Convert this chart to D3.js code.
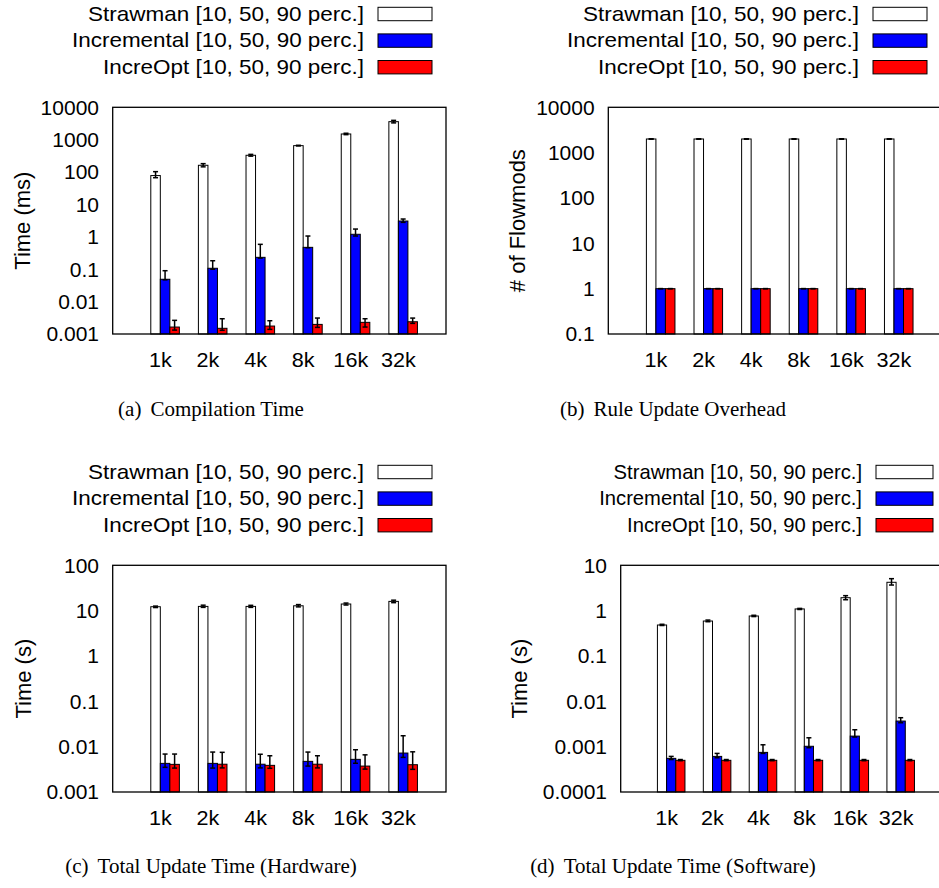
<!DOCTYPE html>
<html>
<head>
<meta charset="utf-8">
<script src="https://cdn.jsdelivr.net/npm/d3@7"></script>
<style>
  body { margin: 0; background: #fff; }
  text { font-family: "Liberation Sans", Arial, sans-serif; }
  .cap { font-family: "Liberation Serif", "Times New Roman", serif; }
</style>
</head>
<body>
<svg id="chart" width="939" height="888"></svg>
<script>
const sizes = ["1k", "2k", "4k", "8k", "16k", "32k"];
const seriesNames = ["Strawman [10, 50, 90 perc.]", "Incremental [10, 50, 90 perc.]", "IncreOpt [10, 50, 90 perc.]"];
const seriesColors = ["#ffffff", "#0000ff", "#ff0000"];

// each entry: [p10, p50, p90]
const compileStrawman = [[67, 78, 103], [145, 162, 182], [310, 330, 352], [640, 655, 672], [1430, 1500, 1580], [3300, 3600, 3950]];
const compileIncr = [[0.047, 0.049, 0.09], [0.10, 0.107, 0.183], [0.22, 0.233, 0.587], [0.46, 0.474, 1.06], [1.06, 1.20, 1.74], [2.80, 3.08, 3.55]];
const compileOpt = [[0.00132, 0.00164, 0.00264], [0.0013, 0.0015, 0.00296], [0.00139, 0.00176, 0.00257], [0.0016, 0.00198, 0.00311], [0.00164, 0.00229, 0.00296], [0.00213, 0.00239, 0.0031]];

const flowStrawman = [[1980, 2000, 2020], [1980, 2000, 2020], [1980, 2000, 2020], [1980, 2000, 2020], [1980, 2000, 2020], [1980, 2000, 2020]];
const flowIncr = [[1, 1, 1], [1, 1, 1], [1, 1, 1], [1, 1, 1], [1, 1, 1], [1, 1, 1]];
const flowOpt = [[1, 1, 1], [1, 1, 1], [1, 1, 1], [1, 1, 1], [1, 1, 1], [1, 1, 1]];

const hwStrawman = [[11.7, 12.2, 12.6], [11.8, 12.4, 13.2], [11.8, 12.4, 13.1], [12.1, 12.8, 13.6], [13.3, 14.0, 14.7], [15.0, 16.0, 17.0]];
const hwIncr = [[0.0035, 0.00428, 0.00687], [0.00337, 0.00428, 0.0076], [0.0034, 0.0041, 0.0068], [0.00373, 0.00474, 0.0076], [0.0043, 0.00525, 0.00855], [0.0058, 0.00723, 0.0174]];
const hwOpt = [[0.00337, 0.00407, 0.00687], [0.0034, 0.0041, 0.0075], [0.00333, 0.00387, 0.0063], [0.0034, 0.0041, 0.0063], [0.0032, 0.00373, 0.0066], [0.00316, 0.0040, 0.0077]];

const swStrawman = [[0.47, 0.482, 0.50], [0.57, 0.59, 0.62], [0.74, 0.762, 0.79], [1.06, 1.09, 1.12], [1.74, 1.93, 2.14], [3.67, 4.22, 5.07]];
const swIncr = [[0.00052, 0.000552, 0.00061], [0.00057, 0.00061, 0.00071], [0.00071, 0.000748, 0.0011], [0.00095, 0.00102, 0.00157], [0.00163, 0.00171, 0.00236], [0.00337, 0.00367, 0.00435]];
const swOpt = [[0.00049, 0.0005, 0.00052], [0.00049, 0.0005, 0.00052], [0.00049, 0.0005, 0.00052], [0.00049, 0.0005, 0.00052], [0.00049, 0.0005, 0.00052], [0.00049, 0.0005, 0.00052]];

const ticksA = [0.001, 0.01, 0.1, 1, 10, 100, 1000, 10000];
const ticksB = [0.1, 1, 10, 100, 1000, 10000];
const ticksC = [0.001, 0.01, 0.1, 1, 10, 100];
const ticksD = [0.0001, 0.001, 0.01, 0.1, 1, 10];

const legendWidths = [276, 292, 261];

const panels = [
  { left: 112.7, top: 107.3, width: 333.3, height: 226.7, ticks: ticksA, yTitle: "Time (ms)", yTitleX: 22,
    caption: "(a)", captionText: "Compilation Time", capX: 211, capY: 416,
    legendEnd: 364, swatchX: 378, swatchW: 54, legendScale: 1,
    series: [compileStrawman, compileIncr, compileOpt] },
  { left: 608.3, top: 107.3, width: 333.3, height: 226.7, ticks: ticksB, yTitle: "# of Flowmods", yTitleX: 517,
    caption: "(b)", captionText: "Rule Update Overhead", capX: 673, capY: 416,
    legendEnd: 859, swatchX: 873, swatchW: 54, legendScale: 1,
    series: [flowStrawman, flowIncr, flowOpt] },
  { left: 112.7, top: 565.3, width: 333.3, height: 226.7, ticks: ticksC, yTitle: "Time (s)", yTitleX: 23,
    caption: "(c)", captionText: "Total Update Time (Hardware)", capX: 211, capY: 873,
    legendEnd: 364, swatchX: 378, swatchW: 54, legendScale: 1,
    series: [hwStrawman, hwIncr, hwOpt] },
  { left: 620.7, top: 565.3, width: 321.3, height: 226.7, ticks: ticksD, yTitle: "Time (s)", yTitleX: 519,
    caption: "(d)", captionText: "Total Update Time (Software)", capX: 673, capY: 873,
    legendEnd: 862, swatchX: 876, swatchW: 57, legendScale: 0.9,
    series: [swStrawman, swIncr, swOpt] }
];

const svg = d3.select("#chart");

panels.forEach(p => {
  const g = svg.append("g");
  const right = p.left + p.width;
  const bottom = p.top + p.height;

  const x = d3.scaleLinear().domain([0, 7]).range([p.left, right]);
  const y = d3.scaleLog().domain([p.ticks[0], p.ticks[p.ticks.length - 1]]).range([bottom, p.top]);

  // bars: white ends at the category position, blue and red follow
  p.series.forEach((vals, si) => {
    const offset = -0.2 + si * 0.2;
    g.selectAll(null)
      .data(vals)
      .enter()
      .append("rect")
      .attr("x", (d, i) => x(i + 1 + offset))
      .attr("width", x(0.2) - x(0))
      .attr("y", d => y(d[1]))
      .attr("height", d => bottom - y(d[1]))
      .attr("fill", seriesColors[si])
      .attr("stroke", "#000")
      .attr("stroke-width", 1);

    // error bars
    const eb = g.selectAll(null)
      .data(vals)
      .enter()
      .append("g")
      .attr("stroke", "#000")
      .attr("stroke-width", 1.5);
    const cx = i => x(i + 1 + offset + 0.1);
    eb.append("line")
      .attr("x1", (d, i) => cx(i)).attr("x2", (d, i) => cx(i))
      .attr("y1", d => y(d[0])).attr("y2", d => y(d[2]));
    eb.append("line")
      .attr("x1", (d, i) => cx(i) - 2.5).attr("x2", (d, i) => cx(i) + 2.5)
      .attr("y1", d => y(d[0])).attr("y2", d => y(d[0]));
    eb.append("line")
      .attr("x1", (d, i) => cx(i) - 2.5).attr("x2", (d, i) => cx(i) + 2.5)
      .attr("y1", d => y(d[2])).attr("y2", d => y(d[2]));
  });

  // frame
  g.append("rect")
    .attr("x", p.left).attr("y", p.top)
    .attr("width", p.width).attr("height", p.height)
    .attr("fill", "none").attr("stroke", "#000").attr("stroke-width", 1.3);

  // y tick labels
  g.selectAll(null)
    .data(p.ticks)
    .enter()
    .append("text")
    .attr("x", p.left - 13.7)
    .attr("y", d => y(d))
    .attr("dy", "0.35em")
    .attr("text-anchor", "end")
    .attr("font-size", 21)
    .text(d => String(d));

  // x labels
  g.selectAll(null)
    .data(sizes)
    .enter()
    .append("text")
    .attr("transform", (d, i) => `translate(${x(i + 1)},${bottom + 33}) scale(1.08,1)`)
    .attr("text-anchor", "middle")
    .attr("font-size", 20)
    .text(d => d);

  // y title
  g.append("text")
    .attr("transform", `translate(${p.yTitleX},${(p.top + bottom) / 2}) rotate(-90)`)
    .attr("dy", "0.35em")
    .attr("text-anchor", "middle")
    .attr("font-size", 22)
    .text(p.yTitle);

  // legend
  seriesNames.forEach((name, si) => {
    g.append("text")
      .attr("x", p.legendEnd)
      .attr("y", p.top - 86.6 + si * 26.4)
      .attr("text-anchor", "end")
      .attr("font-size", 21)
      .attr("textLength", legendWidths[si] * p.legendScale)
      .attr("lengthAdjust", "spacingAndGlyphs")
      .text(name);
    g.append("rect")
      .attr("x", p.swatchX)
      .attr("y", p.top - 100 + si * 26.6)
      .attr("width", p.swatchW)
      .attr("height", 13.4)
      .attr("fill", seriesColors[si])
      .attr("stroke", "#000")
      .attr("stroke-width", 1);
  });

  // caption
  const cap = g.append("text")
    .attr("class", "cap")
    .attr("x", p.capX)
    .attr("y", p.capY)
    .attr("text-anchor", "middle")
    .attr("font-size", 21);
  cap.append("tspan").text(p.caption);
  cap.append("tspan").attr("dx", 9).text(p.captionText);
});
</script>
</body>
</html>
